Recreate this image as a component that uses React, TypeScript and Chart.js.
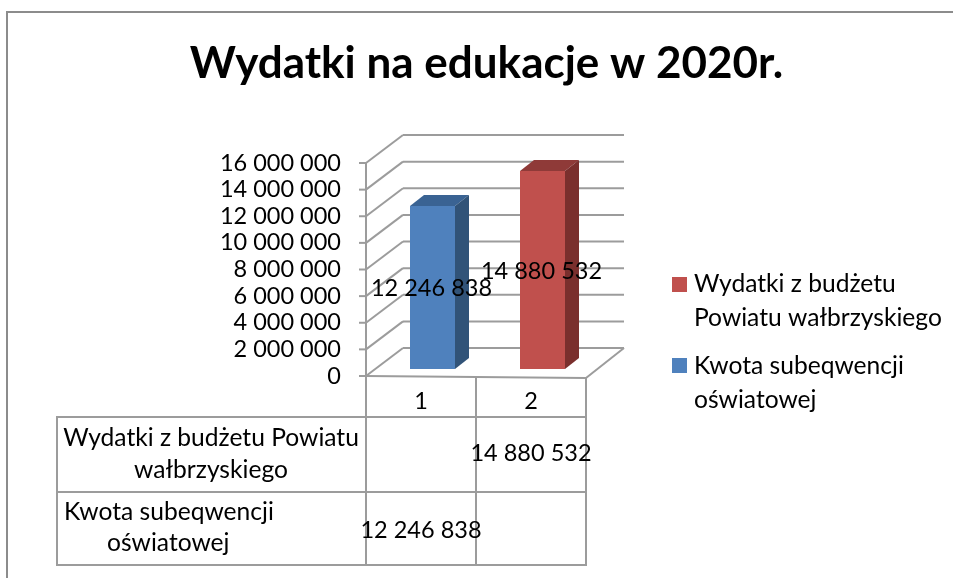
import React, { useEffect, useRef } from "react";
import { Chart, registerables } from "chart.js";

Chart.register(...registerables);

const titleText = "Wydatki na edukacje w 2020r.";
const categories = ["1", "2"];
const subventionValues = [12246838, null];
const budgetValues = [null, 14880532];
const subventionLines = ["Kwota subeqwencji", "oświatowej"];
const budgetLines = ["Wydatki z budżetu", "Powiatu wałbrzyskiego"];
const budgetTableLines = ["Wydatki z budżetu Powiatu", "wałbrzyskiego"];

const FONT = "Lato";
const NUM_SIZE = 23.5;
const TEXT_SIZE = 24.6;
const GRID = "#9c9c9c";
const BLUE = ["#4f81bd", "#3a6393", "#315378"];
const RED = ["#c0504d", "#8f3a38", "#7a2f2d"];

const fmt = (v: number) => String(v).replace(/\B(?=(\d{3})+(?!\d))/g, " ");

const DX = 37;
const DY = 28;
const BAR_DX = 11.5;
const BAR_DY = -7;
const BAR_DEPTH_X = 14;
const BAR_DEPTH_Y = 11;

function line(ctx: CanvasRenderingContext2D, x1: number, y1: number, x2: number, y2: number) {
  ctx.beginPath();
  ctx.moveTo(x1, y1);
  ctx.lineTo(x2, y2);
  ctx.stroke();
}

const chart3d = {
  id: "chart3d",
  beforeDatasetsDraw(chart: any) {
    const { ctx, chartArea, scales } = chart;
    const { left, right, bottom } = chartArea;
    ctx.save();
    ctx.strokeStyle = GRID;
    ctx.lineWidth = 2;
    scales.y.ticks.forEach((t: any) => {
      const y = scales.y.getPixelForValue(t.value);
      line(ctx, left - 7, y, left, y);
      line(ctx, left, y, left + DX, y - DY);
      line(ctx, left + DX, y - DY, left + DX + 221, y - DY);
    });
    line(ctx, left, chartArea.top, left, bottom);
    line(ctx, left, bottom, right, bottom + 2);
    line(ctx, right, bottom + 2, left + DX + 221, bottom - DY);
    ctx.restore();

    ctx.save();
    ctx.translate(BAR_DX, BAR_DY);
  },
  afterDatasetsDraw(chart: any) {
    const { ctx } = chart;
    ctx.restore();
    chart.data.datasets.forEach((ds: any, di: number) => {
      const pal = di === 0 ? BLUE : RED;
      chart.getDatasetMeta(di).data.forEach((el: any, i: number) => {
        const v = ds.data[i];
        if (v == null) return;
        const l = el.x - el.width / 2 + BAR_DX;
        const r = el.x + el.width / 2 + BAR_DX;
        const t = el.y + BAR_DY;
        const b = el.base + BAR_DY;
        ctx.fillStyle = pal[1];
        ctx.beginPath();
        ctx.moveTo(l, t);
        ctx.lineTo(l + BAR_DEPTH_X, t - BAR_DEPTH_Y);
        ctx.lineTo(r + BAR_DEPTH_X, t - BAR_DEPTH_Y);
        ctx.lineTo(r, t);
        ctx.closePath();
        ctx.fill();
        ctx.fillStyle = pal[2];
        ctx.beginPath();
        ctx.moveTo(r, t);
        ctx.lineTo(r + BAR_DEPTH_X, t - BAR_DEPTH_Y);
        ctx.lineTo(r + BAR_DEPTH_X, b - BAR_DEPTH_Y);
        ctx.lineTo(r, b);
        ctx.closePath();
        ctx.fill();
      });
    });
    ctx.save();
    ctx.fillStyle = "#000";
    ctx.font = `${NUM_SIZE}px ${FONT}`;
    ctx.textAlign = "center";
    ctx.textBaseline = "middle";
    chart.data.datasets.forEach((ds: any, di: number) => {
      chart.getDatasetMeta(di).data.forEach((el: any, i: number) => {
        const v = ds.data[i];
        if (v == null) return;
        ctx.fillText(fmt(v), el.x + BAR_DX - 1, (el.y + el.base) / 2 + BAR_DY + 1);
      });
    });
    ctx.restore();
  },
  afterDraw(chart: any) {
    const { ctx, scales } = chart;
    ctx.save();
    // outer frame
    ctx.strokeStyle = "#8c8c8c";
    ctx.lineWidth = 2;
    line(ctx, 7, 12, 953, 12);
    line(ctx, 7, 11, 7, 578);

    // data table
    const xs = [366, 476, 586];
    ctx.strokeStyle = GRID;
    xs.forEach((x) => line(ctx, x, 377, x, 566));
    [417, 492, 565].forEach((y) => line(ctx, 57, y, 586, y));
    line(ctx, 57, 416, 57, 566);

    ctx.fillStyle = "#000";
    ctx.font = `${TEXT_SIZE}px ${FONT}`;
    ctx.textBaseline = "middle";
    ctx.textAlign = "center";
    ctx.fillText(budgetTableLines[0], 211, 438);
    ctx.fillText(budgetTableLines[1], 211, 470);
    ctx.textAlign = "left";
    ctx.fillText(subventionLines[0], 64, 512);
    ctx.fillText(subventionLines[1], 107, 543);
    ctx.font = `${NUM_SIZE}px ${FONT}`;
    ctx.textAlign = "center";
    ctx.fillText(fmt(budgetValues[1] as number), scales.x.getPixelForValue(1), 453);
    ctx.fillText(fmt(subventionValues[0] as number), scales.x.getPixelForValue(0), 530);

    // legend
    ctx.font = `${TEXT_SIZE}px ${FONT}`;
    ctx.textAlign = "left";
    ctx.fillStyle = RED[0];
    ctx.fillRect(672, 277, 15, 15);
    ctx.fillStyle = BLUE[0];
    ctx.fillRect(672, 358, 15, 15);
    ctx.fillStyle = "#000";
    ctx.fillText(budgetLines[0], 694, 284);
    ctx.fillText(budgetLines[1], 694, 318);
    ctx.fillText(subventionLines[0], 694, 366);
    ctx.fillText(subventionLines[1], 694, 400);
    ctx.restore();
  },
};

export default function App() {
  const ref = useRef<HTMLCanvasElement>(null);
  useEffect(() => {
    const chart = new Chart(ref.current as HTMLCanvasElement, {
      type: "bar",
      data: {
        labels: categories,
        datasets: [
          { label: subventionLines.join(" "), data: subventionValues, backgroundColor: BLUE[0] },
          { label: budgetLines.join(" "), data: budgetValues, backgroundColor: RED[0] },
        ],
      },
      options: {
        responsive: false,
        animation: false,
        layout: { padding: { left: 20, right: 0, top: 0, bottom: 0 } },
        datasets: { bar: { barPercentage: 45 / 110, categoryPercentage: 1, clip: false } },
        plugins: {
          legend: { display: false },
          tooltip: { enabled: false },
          title: {
            display: true,
            text: titleText,
            color: "#000",
            font: { family: FONT, weight: "bold", size: 44, lineHeight: 1.2 },
            padding: { top: 37, bottom: 163 - 37 - 52.8 },
          },
        },
        scales: {
          x: {
            stacked: true,
            grid: { display: false, drawTicks: false },
            border: { display: false },
            ticks: { color: "#000", font: { family: FONT, size: NUM_SIZE }, padding: 11, maxRotation: 0 },
            afterFit: (s: any) => { s.height = 578 - 376; },
          },
          y: {
            stacked: true,
            min: 0,
            max: 16000000,
            grid: { display: false, drawTicks: false },
            border: { display: false },
            ticks: {
              stepSize: 2000000,
              autoSkip: false,
              color: "#000",
              font: { family: FONT, size: NUM_SIZE },
              padding: 25,
              callback: (v: any) => fmt(Number(v)),
            },
            afterFit: (s: any) => { s.width = 366 - 20; },
          },
          yRight: {
            position: "right",
            display: true,
            grid: { display: false, drawTicks: false },
            border: { display: false },
            ticks: { display: false },
            afterFit: (s: any) => { s.width = 953 - 586; },
          },
        },
      } as any,
      plugins: [chart3d],
    });
    return () => chart.destroy();
  }, []);
  return (
    <canvas
      ref={ref}
      width={953}
      height={578}
      style={{ position: "absolute", left: 0, top: 0, width: 953, height: 578, background: "#fff" }}
    />
  );
}
